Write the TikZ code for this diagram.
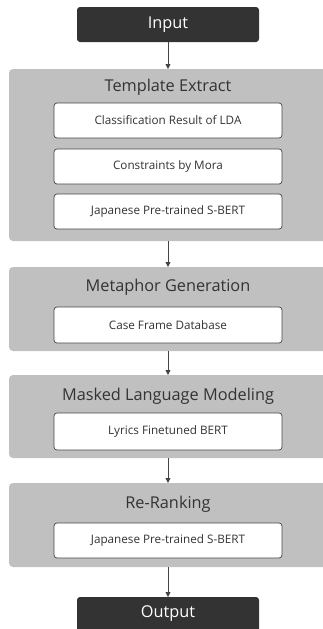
\documentclass[tikz,border=0pt]{standalone}
\usepackage{fontspec}
\setmainfont{Open Sans}
\usetikzlibrary{arrows.meta}
\definecolor{darkbox}{HTML}{333333}
\definecolor{graybox}{HTML}{C0C0C0}
\definecolor{linecol}{HTML}{444444}
\begin{document}
\begin{tikzpicture}[x=1pt,y=-1pt,
  io/.style={fill=darkbox,rounded corners=3pt},
  iotext/.style={text=white,font=\fontsize{16.3}{18}\selectfont},
  stage/.style={fill=graybox,rounded corners=4pt},
  title/.style={text=darkbox,font=\fontsize{16.3}{18}\selectfont},
  inner/.style={draw=linecol,line width=0.7pt,fill=white,rounded corners=3pt},
  innertext/.style={text=darkbox,font=\fontsize{11.7}{13}\selectfont},
  arr/.style={draw=linecol,line width=0.8pt,-{Triangle[length=5pt,width=5pt]}}]
\useasboundingbox (0,0) rectangle (323,629);
% boxes
\path[io] (77,7) rectangle (259,42);
\node[iotext] (in) at (168,24.5) {Input};
\coordinate (inb) at (168,42);
\path[stage] (9,69) rectangle (327,241);
\coordinate (s1t) at (168,69); \coordinate (s1b) at (168,241);
\node[title] (t1) at (168,87) {Template Extract};
\draw[inner] (54,103) rectangle (282,138);
\node[innertext] (b1) at (168,120.5) {Classification Result of LDA};
\draw[inner] (54,149) rectangle (282,184);
\node[innertext] (b2) at (168,166.5) {Constraints by Mora};
\draw[inner] (54,194) rectangle (282,229);
\node[innertext] (b3) at (168,211.5) {Japanese Pre-trained S-BERT};

\path[stage] (9,267) rectangle (327,351);
\coordinate (s2t) at (168,267); \coordinate (s2b) at (168,351);
\node[title] (t2) at (168,287) {Metaphor Generation};
\draw[inner] (54,307) rectangle (282,343);
\node[innertext] (b4) at (168,325) {Case Frame Database};

\path[stage] (9,375) rectangle (327,458);
\coordinate (s3t) at (168,375); \coordinate (s3b) at (168,458);
\node[title] (t3) at (168,396) {Masked Language Modeling};
\draw[inner] (54,413) rectangle (282,450);
\node[innertext] (b5) at (168,431.5) {Lyrics Finetuned BERT};

\path[stage] (9,483) rectangle (327,567);
\coordinate (s4t) at (168,483); \coordinate (s4b) at (168,567);
\node[title] (t4) at (168,504) {Re-Ranking};
\draw[inner] (54,523) rectangle (282,558);
\node[innertext] (b6) at (168,540.5) {Japanese Pre-trained S-BERT};

\path[io] (77,597) rectangle (259,640);
\node[iotext] (out) at (168,614) {Output};
\coordinate (outt) at (168,597);

\draw[arr] (inb) -- (s1t);
\draw[arr] (s1b) -- (s2t);
\draw[arr] (s2b) -- (s3t);
\draw[arr] (s3b) -- (s4t);
\draw[arr] (s4b) -- (outt);
\end{tikzpicture}
\end{document}
